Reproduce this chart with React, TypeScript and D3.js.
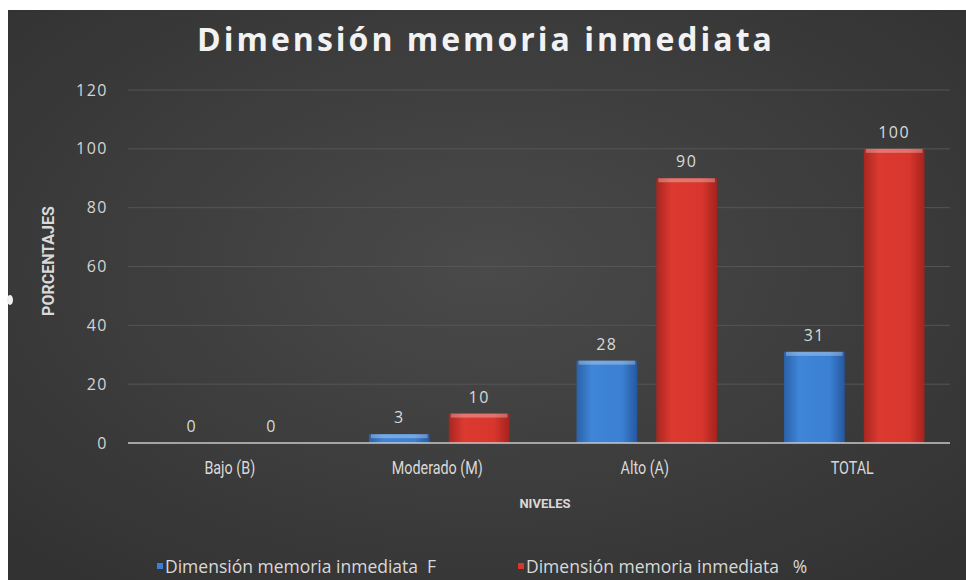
import React from "react";
import * as d3 from "d3";

const categories = ["Bajo (B)", "Moderado (M)", "Alto (A)", "TOTAL"];
const seriesNames = ["Dimensión memoria inmediata  F", "Dimensión memoria inmediata   %"];
const valuesF = [0, 3, 28, 31];
const valuesPct = [0, 10, 90, 100];
const yTicks = [0, 20, 40, 60, 80, 100, 120];

const W = 966;
const H = 580;
const colors = ["#3b7fd4", "#d8352c"];

const App = () => {
  const x = d3.scaleBand().domain(categories).range([128, 958]);
  const xs = d3
    .scaleBand()
    .domain(["F", "%"])
    .range([0, x.bandwidth()])
    .paddingInner(0.24)
    .paddingOuter(0.42);
  const y = d3.scaleLinear().domain([0, 120]).range([443, 90]);

  const series = [
    { key: "F", values: valuesF, color: colors[0], grad: "gradBlue" },
    { key: "%", values: valuesPct, color: colors[1], grad: "gradRed" },
  ];

  const font = "'Open Sans', 'DejaVu Sans', sans-serif";
  const narrow = "Roboto, 'Liberation Sans', sans-serif";

  return (
    <svg width={W} height={H} style={{ position: "absolute", left: 0, top: 0 }}>
      <defs>
        <radialGradient id="bg" cx="50%" cy="45%" r="70%">
          <stop offset="0%" stopColor="#4a4a4a" />
          <stop offset="100%" stopColor="#323232" />
        </radialGradient>
        <linearGradient id="gradBlue" x1="0" x2="1" y1="0" y2="0">
          <stop offset="0%" stopColor="#2a62a8" />
          <stop offset="25%" stopColor="#3f85d8" />
          <stop offset="75%" stopColor="#3b80d2" />
          <stop offset="100%" stopColor="#2558a0" />
        </linearGradient>
        <linearGradient id="gradRed" x1="0" x2="1" y1="0" y2="0">
          <stop offset="0%" stopColor="#a82620" />
          <stop offset="25%" stopColor="#dc3a30" />
          <stop offset="75%" stopColor="#d8362d" />
          <stop offset="100%" stopColor="#a4231d" />
        </linearGradient>
      </defs>

      <rect x={0} y={0} width={W} height={H} fill="#ffffff" />
      <rect x={8} y={10} width={W - 8} height={H - 10} fill="url(#bg)" />
      <ellipse cx={10} cy={300} rx={3} ry={5} fill="#f0f0f0" />

      <text
        x={486}
        y={51}
        textAnchor="middle"
        fill="#f2f2f2"
        style={{ fontFamily: font, fontWeight: 700, fontSize: 32, letterSpacing: 3 }}
      >
        Dimensión memoria inmediata
      </text>

      {yTicks.map((t) => (
        <g key={t}>
          {t > 0 && (
            <line x1={128} x2={950} y1={y(t)} y2={y(t)} stroke="#555555" strokeWidth={1} />
          )}
          <text
            x={108}
            y={y(t)}
            dy="0.35em"
            textAnchor="end"
            fill="#d4d4d4"
            style={{ fontFamily: font, fontSize: 16, letterSpacing: 1.5 }}
          >
            {t}
          </text>
        </g>
      ))}

      {series.map((s) =>
        categories.map((c, i) => {
          const v = s.values[i];
          const bx = (x(c) as number) + (xs(s.key) as number);
          const bw = xs.bandwidth();
          const top = y(v);
          const h = y(0) - top;
          return (
            <g key={s.key + c}>
              {h > 0 && (
                <>
                  <rect x={bx} y={top} width={bw} height={h} fill={`url(#${s.grad})`} />
                  <rect
                    x={bx + 2}
                    y={top}
                    width={bw - 4}
                    height={Math.min(4, h)}
                    fill="#ffffff"
                    opacity={0.3}
                  />
                </>
              )}
              <text
                x={bx + bw / 2}
                y={top - 11}
                textAnchor="middle"
                fill="#d9d9d9"
                style={{ fontFamily: font, fontSize: 16, letterSpacing: 1.5 }}
              >
                {v}
              </text>
            </g>
          );
        })
      )}

      <line x1={128} x2={950} y1={y(0)} y2={y(0)} stroke="#c8c8c8" strokeWidth={1.5} />

      {categories.map((c) => (
        <text
          key={c}
          transform={`translate(${(x(c) as number) + x.bandwidth() / 2 - 2}, 468) scale(0.82, 1)`}
          dy="0.35em"
          textAnchor="middle"
          fill="#d9d9d9"
          style={{ fontFamily: narrow, fontSize: 17.5 }}
        >
          {c}
        </text>
      ))}

      <text
        x={545}
        y={503}
        dy="0.35em"
        textAnchor="middle"
        fill="#d9d9d9"
        style={{ fontFamily: narrow, fontWeight: 700, fontSize: 13 }}
      >
        NIVELES
      </text>

      <text
        transform={`translate(48, 261) rotate(-90)`}
        dy="0.35em"
        textAnchor="middle"
        fill="#d9d9d9"
        style={{ fontFamily: narrow, fontWeight: 700, fontSize: 16 }}
      >
        PORCENTAJES
      </text>

      {seriesNames.map((n, i) => {
        const lx = [157, 518][i];
        return (
          <g key={n}>
            <rect x={lx} y={563} width={6} height={6} fill={colors[i]} />
            <text
              x={lx + 8}
              y={567}
              dy="0.35em"
              fill="#d9d9d9"
              style={{ fontFamily: font, fontSize: 17.5, whiteSpace: "pre" }}
            >
              {n}
            </text>
          </g>
        );
      })}
    </svg>
  );
};

export default App;
